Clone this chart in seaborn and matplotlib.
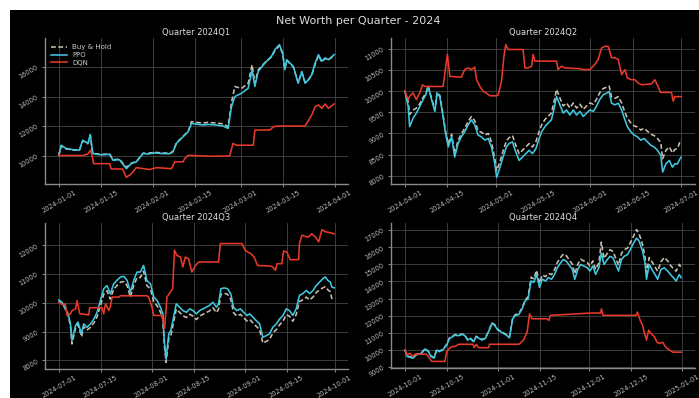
import numpy as np
import pandas as pd
import matplotlib
matplotlib.use("Agg")
import matplotlib.pyplot as plt
import matplotlib.dates as mdates
from matplotlib.ticker import MultipleLocator
from matplotlib.patches import Rectangle
import seaborn as sns

# ---------------- data ----------------
quarter_labels = ["2024Q1", "2024Q2", "2024Q3", "2024Q4"]
quarter_starts = ["2024-01-01", "2024-04-01", "2024-07-01", "2024-10-01"]
strategy_names = ["Buy & Hold", "PPO", "DQN"]
ytick_steps = [2000, 500, 1000, 1000]

# days since quarter start
q1_days = [0, 0.8, 2.4, 4.6, 6.8, 7.9, 9.6, 10.4, 11.2, 12.3, 14, 16.8, 17.9, 20, 22.3, 23.9,
           25.6, 27.8, 29.4, 31.6, 34.4, 36.6, 37.7, 38.8, 41, 42.7, 43.8, 45.4, 47.6, 49.3,
           52, 54.2, 55.9, 57, 58.1, 60.3, 62.5, 63.8, 64.7, 65.8, 68, 70.2, 71.3, 72.8, 73.9,
           74.6, 75.2, 77.4, 79, 80.2, 81.3, 82.4, 83.5, 84.6, 85.7, 86.8, 87.9, 89, 90.9]
q1_bh = [10000, 10650, 10450, 10380, 10350, 11000, 10800, 11350, 10150, 10120,
         10080, 10100, 9720, 9760, 9200, 9480, 9600, 10160, 10150, 10220,
         10170, 10160, 10280, 10850, 11300, 11650, 12300, 12250, 12200, 12250,
         12200, 12150, 11950, 13600, 14680, 14550, 14900, 16150, 14900, 15800,
         16300, 16700, 17100, 17450, 16900, 15850, 16450, 16000, 14950, 15650,
         14950, 15150, 15450, 16200, 16800, 16350, 16580, 16480, 16800]
q1_ppo = [10000, 10700, 10480, 10400, 10360, 11040, 10820, 11430, 10140, 10090,
          10050, 10080, 9680, 9720, 9110, 9450, 9570, 10140, 10100, 10180,
          10130, 10120, 10250, 10820, 11270, 11610, 12180, 12130, 12070, 12110,
          12070, 12000, 11840, 13320, 14000, 14220, 14560, 15800, 14680, 15700,
          16270, 16730, 17180, 17520, 16950, 15820, 16500, 16040, 14900, 15700,
          14900, 15140, 15480, 16270, 16840, 16390, 16620, 16500, 16840]
q1_dqn_days = [0, 7.9, 9.6, 10.4, 11, 11.5, 16.8, 17.3, 21, 22.3, 24, 25.6, 30, 32.2, 37.2,
               38.3, 41, 41.6, 42.7, 46.5, 51, 56.4, 57.5, 58.7, 64.2, 64.7, 69.7, 70.8, 72.4,
               81.3, 83.5, 84.6, 85.7, 86.8, 87.9, 89, 90.9]
q1_dqn = [10000, 10000, 10100, 10360, 10000, 9450, 9450, 9090, 9090, 8520,
          8770, 9180, 9050, 9180, 9110, 9570, 9570, 9800, 10020, 9980,
          9950, 9980, 10820, 10700, 10700, 11730, 11730, 11950, 12000, 12000,
          12750, 13320, 13430, 13200, 13500, 13200, 13500]

q2_days = [0, 1.1, 1.6, 2.7, 3.8, 4.9, 6.0, 6.9, 7.7, 8.8, 9.9, 10.6, 11.5, 12.4, 13.4, 14.3,
           15.4, 16.4, 17.5, 18.6, 19.7, 20.8, 21.9, 23.0, 24.1, 25.2, 26.3, 27.4, 28.5, 29.6,
           30.2, 31.3, 32.3, 33.4, 34.3, 35.4, 36.5, 37.6, 38.7, 39.8, 40.9, 42.0, 43.1, 44.2,
           45.0, 46.1, 47.1, 48.2, 49.0, 49.9, 51.0, 52.1, 53.2, 54.3, 55.4, 56.5, 57.6, 58.7,
           59.8, 60.9, 62.0, 63.0, 64.1, 65.2, 66.3, 67.2, 68.0, 69.1, 70.2, 71.3, 72.4, 73.2,
           74.3, 75.4, 76.5, 77.6, 78.7, 79.8, 80.9, 82.0, 83.1, 84.2, 84.8, 85.9, 87.0, 88.0,
           88.8, 89.7, 90.5, 90.9]
q2_bh = [10000, 9750, 9450, 9550, 9600, 9700, 9850, 9950, 10120, 9830,
         9560, 9970, 9900, 9520, 9050, 8750, 8980, 8520, 8830, 8990,
         9120, 9280, 9400, 9300, 9060, 9030, 8960, 9000, 8800, 8400,
         8120, 8330, 8580, 8820, 8900, 8950, 8720, 8520, 8600, 8680,
         8760, 8680, 8800, 9050, 9200, 9330, 9400, 9480, 9720, 10040,
         9840, 9650, 9720, 9600, 9720, 9600, 9690, 9570, 9650, 9720,
         9690, 9800, 9960, 10060, 10090, 10120, 9860, 9830, 9870, 9720,
         9500, 9360, 9250, 9180, 9150, 9080, 9120, 9050, 8980, 8950,
         8880, 8780, 8400, 8600, 8680, 8540, 8620, 8650, 8800, 8850]
q2_ppo = [10000, 9635, 9160, 9360, 9480, 9635, 9800, 9910, 10110, 9800,
          9520, 9950, 9870, 9480, 9000, 8680, 8920, 8440, 8760, 8920,
          9040, 9200, 9320, 9200, 8960, 8920, 8840, 8880, 8680, 8285,
          7960, 8200, 8440, 8680, 8760, 8800, 8560, 8360, 8440, 8520,
          8600, 8520, 8640, 8880, 9040, 9160, 9240, 9320, 9555, 9870,
          9675, 9480, 9555, 9435, 9555, 9435, 9520, 9400, 9480, 9555,
          9520, 9635, 9800, 9910, 9950, 9990, 9715, 9675, 9715, 9555,
          9320, 9160, 9040, 8960, 8920, 8840, 8880, 8800, 8720, 8680,
          8600, 8480, 8085, 8285, 8360, 8200, 8280, 8280, 8400, 8440]
q2_dqn_days = [0, 1.1, 1.6, 2.7, 3.8, 4.9, 5.8, 6.6, 12.6, 13.4, 14.0, 14.8, 18.6, 19.7, 20.8,
               21.9, 23.0, 23.6, 24.7, 25.8, 26.9, 28.0, 30.2, 30.7, 31.8, 32.6, 33.2, 34.0,
               38.9, 39.5, 40.6, 41.7, 42.2, 42.8, 49.9, 50.4, 51.5, 52.6, 57.6, 58.7, 60.9,
               62.5, 63.6, 64.7, 65.8, 66.9, 68.0, 69.1, 70.2, 71.3, 72.4, 73.2, 74.6, 75.7,
               76.8, 77.9, 81.1, 82.2, 83.3, 84.1, 87.7, 88.3, 88.8, 90.9]
q2_dqn = [10000, 9800, 9880, 9960, 9800, 9960, 10150, 10110, 10110, 10550,
          10870, 10350, 10330, 10510, 10550, 10510, 10570, 10270, 10110, 9990,
          9950, 9890, 9890, 9910, 10230, 10825, 11100, 10985, 10985, 10550,
          10550, 10590, 10870, 10710, 10710, 10510, 10590, 10550, 10530, 10510,
          10510, 10630, 10750, 11020, 11060, 11060, 10790, 10790, 10750, 10390,
          10510, 10310, 10270, 10270, 10190, 10150, 10170, 10270, 10110, 9970,
          9970, 9760, 9870, 9870]

q3_days = [0, 1.1, 2.0, 3.1, 3.9, 4.4, 5.6, 6.4, 7.6, 8.3, 9.4, 10.6, 11.7, 12.8, 13.9, 15.0,
           16.1, 17.2, 18.3, 19.4, 20.6, 21.7, 22.8, 23.9, 25.0, 26.1, 27.2, 28.3, 29.4, 30.6,
           31.7, 32.8, 33.9, 34.7, 35.2, 35.8, 36.7, 37.4, 38.3, 39.2, 40.3, 41.4, 42.6, 43.7,
           44.8, 45.9, 47.0, 48.1, 49.2, 50.3, 51.4, 52.6, 53.3, 54.1, 55.2, 56.3, 57.4, 58.3,
           59.4, 60.6, 61.7, 62.8, 63.7, 64.8, 65.9, 67.0, 68.1, 69.2, 70.3, 71.4, 72.6, 73.7,
           74.8, 75.9, 77.0, 78.1, 79.2, 80.3, 81.4, 82.6, 83.7, 84.8, 85.9, 87.0, 88.1, 88.9,
           89.8, 90.6, 91.1, 91.9]
q3_bh = [10080, 10000, 9820, 9570, 9200, 8570, 9120, 9250, 8820, 9170,
         9050, 9150, 9300, 9520, 9900, 10300, 10420, 10130, 10470, 10600,
         10720, 10740, 10600, 10200, 10600, 10880, 10880, 11100, 10600, 10480,
         10030, 9900, 9680, 9450, 8550, 7930, 8750, 8870, 9320, 9780,
         9670, 9550, 9490, 9600, 9540, 9420, 9540, 9600, 9660, 9720,
         9830, 9660, 9780, 10300, 10330, 10300, 10120, 9660, 9540, 9600,
         9480, 9370, 9420, 9300, 9180, 9070, 8600, 8660, 8720, 8950,
         9070, 9240, 9360, 9590, 9530, 9360, 9590, 10050, 10100, 10200,
         10100, 10200, 10360, 10450, 10520, 10560, 10450, 10380, 10150, 10120]
q3_ppo = [10100, 10020, 9850, 9615, 9270, 8690, 9210, 9330, 8920, 9270,
          9150, 9270, 9440, 9670, 10080, 10490, 10600, 10310, 10660, 10780,
          10900, 10920, 10780, 10370, 10780, 11070, 11070, 11300, 10780, 10660,
          10200, 10080, 9850, 9620, 8690, 8050, 8920, 9040, 9500, 9965,
          9850, 9730, 9670, 9790, 9730, 9615, 9730, 9790, 9850, 9910,
          10020, 9850, 9965, 10490, 10520, 10490, 10310, 9850, 9730, 9790,
          9670, 9560, 9615, 9500, 9380, 9270, 8800, 8860, 8920, 9150,
          9270, 9440, 9560, 9790, 9730, 9560, 9790, 10260, 10320, 10430,
          10320, 10430, 10600, 10720, 10840, 10900, 10780, 10720, 10550, 10520]
q3_dqn_days = [0, 1.1, 2.2, 2.8, 3.9, 4.4, 5.6, 6.1, 7.0, 10.0, 10.3, 14.4, 15.0, 15.6, 16.7,
               17.2, 17.8, 20.0, 20.6, 29.4, 30.0, 31.1, 31.7, 34.4, 35.3, 36.1, 37.2, 38.0,
               38.6, 39.4, 40.6, 41.4, 42.2, 43.3, 44.4, 45.6, 46.7, 52.8, 53.3, 53.9, 61.1,
               62.2, 63.0, 64.1, 65.2, 66.3, 70.6, 71.4, 72.3, 72.8, 74.4, 75.0, 76.1, 77.2,
               80.0, 80.3, 81.1, 82.2, 83.3, 84.4, 85.6, 86.7, 87.8, 88.9, 90.6, 91.9]
q3_dqn = [10020, 9940, 9960, 9560, 9620, 9730, 9790, 10080, 9620, 9580,
          9830, 9830, 9620, 9970, 9730, 9870, 10200, 10200, 10245, 10245,
          10200, 9850, 9560, 9560, 9120, 10200, 10370, 10490, 11830, 11650,
          11590, 11245, 11590, 11530, 11070, 11300, 11420, 11420, 11420, 12060,
          12060, 11830, 11770, 11710, 11590, 11300, 11280, 11245, 11130, 11360,
          11360, 11800, 11770, 11500, 11500, 12060, 12350, 12310, 12290, 12400,
          12290, 12120, 12545, 12470, 12440, 12400]

q4_days = [0, 0.8, 1.9, 2.8, 3.7, 4.7, 5.6, 6.7, 7.8, 8.7, 9.7, 10.6, 11.4, 12.6, 13.9, 14.8,
           15.8, 16.7, 17.8, 18.9, 19.8, 20.8, 21.7, 22.8, 23.7, 24.7, 25.6, 26.7, 27.8, 28.9,
           29.8, 30.9, 31.9, 32.8, 33.7, 34.7, 35.8, 36.7, 37.8, 38.9, 40.0, 40.9, 41.9, 42.8,
           43.7, 44.7, 45.6, 46.7, 47.6, 48.7, 49.7, 50.6, 51.7, 52.6, 53.6, 54.4, 55.6, 56.4,
           57.4, 58.3, 59.4, 60.6, 61.4, 62.4, 63.3, 64.4, 65.2, 66.1, 67.2, 68.1, 69.1, 70.0,
           70.9, 71.9, 72.8, 73.9, 74.8, 75.9, 76.9, 77.8, 78.9, 79.7, 80.2, 81.1, 82.0, 83.0,
           83.9, 85.0, 86.1, 87.2, 88.1, 89.1, 90.0, 91.1, 91.7]
q4_bh = [10000, 9650, 9600, 9560, 9740, 9780, 9840, 10080, 9930, 9650,
         9560, 10030, 9930, 10030, 10320, 10700, 10800, 10900, 10860, 10930,
         10900, 10610, 10700, 10510, 10800, 10700, 10610, 10700, 11090, 11580,
         11480, 11190, 11090, 10990, 10900, 10750, 11870, 12070, 12110, 12450,
         12950, 13080, 14250, 14150, 14650, 13900, 14380, 14280, 14470, 14400,
         14700, 15100, 15400, 15600, 15500, 15300, 15000, 14450, 15000, 15300,
         15200, 15100, 14900, 15200, 14700, 15100, 16300, 15350, 15650, 15850,
         15750, 15350, 14950, 15650, 15850, 15950, 16250, 16650, 17030, 16750,
         16150, 15450, 14500, 15400, 15150, 14850, 14600, 15150, 15400, 15200,
         14950, 14750, 14600, 15000, 14800]
q4_ppo = [10000, 9615, 9560, 9520, 9710, 9750, 9810, 10060, 9900, 9615,
          9520, 10000, 9900, 10000, 10290, 10670, 10770, 10865, 10830, 10900,
          10865, 10575, 10670, 10480, 10770, 10670, 10575, 10670, 11060, 11540,
          11440, 11150, 11060, 10960, 10865, 10710, 11825, 12020, 12060, 12400,
          12880, 12980, 14030, 13940, 14415, 13650, 14130, 14030, 14220, 14130,
          14415, 14800, 15090, 15280, 15180, 14990, 14700, 14130, 14700, 14990,
          14900, 14800, 14610, 14900, 14415, 14800, 15665, 14990, 15280, 15470,
          15380, 14990, 14610, 15280, 15470, 15570, 15860, 16240, 16530, 16340,
          15760, 15090, 14130, 14990, 14700, 14415, 14130, 14700, 14800, 14610,
          14415, 14220, 14030, 14400, 14220]
q4_dqn_days = [0, 0.8, 1.7, 2.6, 3.3, 7.2, 7.8, 8.9, 13.3, 13.9, 14.8, 15.8, 16.7, 17.8, 22.6,
               23.0, 23.7, 24.4, 25.0, 27.8, 28.1, 37.8, 38.3, 39.4, 40.6, 41.4, 42.2, 47.2,
               47.8, 48.3, 61.1, 65.0, 65.2, 65.8, 76.7, 77.2, 78.1, 78.9, 79.4, 80.2, 80.9,
               81.7, 82.8, 83.7, 84.4, 85.6, 86.7, 87.8, 88.9, 91.7]
q4_dqn = [10000, 9710, 9810, 9615, 9750, 9750, 9615, 9330, 9330, 9900,
          10100, 10200, 10200, 10330, 10330, 10140, 10330, 10140, 10130, 10130,
          10330, 10330, 10390, 10580, 11060, 12110, 11820, 11820, 11720, 12020,
          12150, 12160, 12400, 12020, 12020, 12210, 11730, 11440, 11060, 10580,
          11150, 10960, 10770, 10440, 10390, 10440, 10130, 10000, 9870, 9870]

# ---------------- tidy table ----------------
series = [
    (q1_days, q1_bh, q1_ppo, q1_dqn_days, q1_dqn),
    (q2_days, q2_bh, q2_ppo, q2_dqn_days, q2_dqn),
    (q3_days, q3_bh, q3_ppo, q3_dqn_days, q3_dqn),
    (q4_days, q4_bh, q4_ppo, q4_dqn_days, q4_dqn),
]
frames = []
for qlab, qstart, (d, bh, ppo, dd, dqn) in zip(quarter_labels, quarter_starts, series):
    start = pd.Timestamp(qstart)
    t = start + pd.to_timedelta(np.array(d), unit="D")
    td = start + pd.to_timedelta(np.array(dd), unit="D")
    frames.append(pd.DataFrame({"quarter": qlab, "date": t, "strategy": "Buy & Hold", "value": bh}))
    frames.append(pd.DataFrame({"quarter": qlab, "date": t, "strategy": "PPO", "value": ppo}))
    frames.append(pd.DataFrame({"quarter": qlab, "date": td, "strategy": "DQN", "value": dqn}))
df = pd.concat(frames, ignore_index=True)

# ---------------- style ----------------
plt.style.use("dark_background")
plt.rcParams["font.family"] = ["DejaVu Sans"]

palette = {"Buy & Hold": "#c9bfae", "PPO": "#3fc8e0", "DQN": "#e8392a"}
dashes = {"Buy & Hold": (3, 1.6), "PPO": "", "DQN": ""}

W, H = 699, 398
fig = plt.figure(figsize=(W / 100, H / 100), dpi=100, facecolor="white")
fig.patches.append(Rectangle((10 / W, 0), 1 - 10 / W, 1 - 10 / H, transform=fig.transFigure,
                             facecolor="black", edgecolor="none", zorder=-10))

# axes boxes in pixel units (left, top, right, bottom)
boxes = [(45, 38, 348, 184), (391, 38, 695, 184), (45, 223, 348, 369), (391, 223, 695, 368)]
axes = []
for (l, t, r, b) in boxes:
    ax = fig.add_axes([l / W, 1 - b / H, (r - l) / W, (b - t) / H])
    ax.set_facecolor("black")
    axes.append(ax)

for i, (ax, qlab) in enumerate(zip(axes, quarter_labels)):
    sub = df[df["quarter"] == qlab]
    sns.lineplot(data=sub, x="date", y="value", hue="strategy", style="strategy",
                 hue_order=strategy_names, style_order=strategy_names,
                 palette=palette, dashes=dashes, linewidth=1.15, ax=ax,
                 legend=(i == 0), estimator=None)
    ax.set_title(f"Quarter {qlab}", fontsize=6, color="#dddddd", pad=2.5)
    ax.set_xlabel("")
    ax.set_ylabel("")
    ax.xaxis.set_major_locator(mdates.DayLocator(bymonthday=[1, 15]))
    ax.xaxis.set_major_formatter(mdates.DateFormatter("%Y-%m-%d"))
    ax.yaxis.set_major_locator(MultipleLocator(ytick_steps[i]))
    ax.tick_params(axis="both", labelsize=4.8, colors="#bbbbbb", length=2, width=0.5, pad=2)
    ax.tick_params(axis="x", labelrotation=30)
    ax.tick_params(axis="y", labelrotation=30)
    ax.grid(True, color="#464646", linewidth=0.6)
    ax.set_axisbelow(True)
    sns.despine(ax=ax)
    for s in ("left", "bottom"):
        ax.spines[s].set_color("#8a8a8a")
        ax.spines[s].set_linewidth(1.0)
    if i == 0:
        leg = ax.get_legend()
        handles = leg.legend_handles
        labels = [t.get_text() for t in leg.get_texts()]
        leg.remove()
        ax.legend(handles, labels, loc="upper left", fontsize=5, frameon=False,
                  labelspacing=0.25, handlelength=2.2, labelcolor="#cccccc")

fig.text(0.512, 0.948, "Net Worth per Quarter - 2024", ha="center", va="center",
         fontsize=8, color="#dddddd")

fig.savefig("out.png", dpi=100, facecolor="white")
